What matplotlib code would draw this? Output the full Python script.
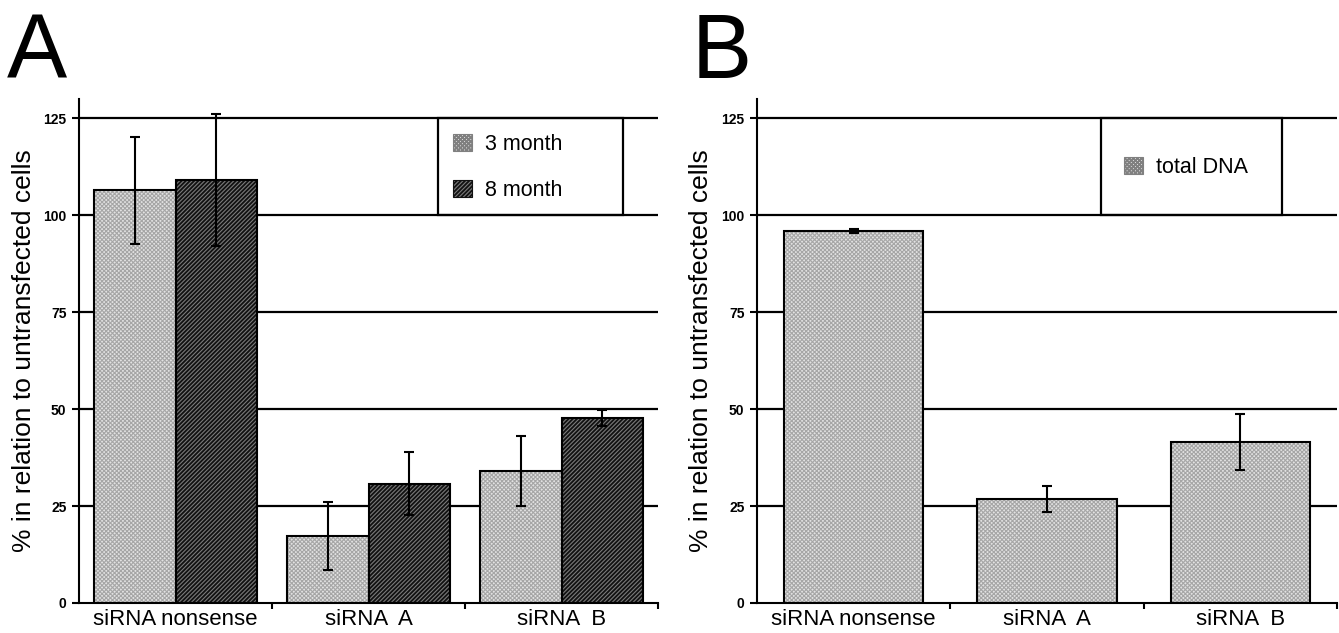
import numpy as np
import matplotlib
matplotlib.use('Agg')
import matplotlib.pyplot as plt
from matplotlib.patches import Patch, Rectangle

plt.rcParams['font.family'] = ['Liberation Sans', 'DejaVu Sans']
plt.rcParams['hatch.linewidth'] = 1.3

categories = ['siRNA nonsense', 'siRNA  A', 'siRNA  B']
month3 = [106.4, 17.3, 34.0]
month3_err = [13.7, 8.8, 9.0]
month8 = [109.2, 30.8, 47.7]
month8_err = [17.0, 8.2, 2.0]
total_dna = [95.9, 26.8, 41.5]
total_dna_err = [0.5, 3.3, 7.2]
yticks = [0, 25, 50, 75, 100, 125]

LIGHT_FACE = '#e2e2e2'
LIGHT_HATCH = '#a6a6a6'
LIGHT_PAT = 'x' * 8
DARK_FACE = '#7a7a7a'
DARK_PAT = '/' * 8

fig = plt.figure(figsize=(13.39, 6.33), dpi=100)
axA = fig.add_axes([79/1339, 30/633, 579/1339, 504/633])
axB = fig.add_axes([757/1339, 30/633, 580/1339, 504/633])

x = np.arange(len(categories))


def light_bars(ax, xs, vals, width):
    with plt.rc_context({'hatch.linewidth': 0.8}):
        ax.bar(xs, vals, width, color=LIGHT_FACE, edgecolor=LIGHT_HATCH, hatch=LIGHT_PAT, linewidth=0, zorder=2)
    ax.bar(xs, vals, width, fill=False, edgecolor='black', linewidth=1.5, zorder=3)


def dark_bars(ax, xs, vals, width):
    ax.bar(xs, vals, width, color=DARK_FACE, edgecolor='#111111', hatch=DARK_PAT, linewidth=0, zorder=2)
    ax.bar(xs, vals, width, fill=False, edgecolor='black', linewidth=1.5, zorder=3)


def style_axes(ax):
    ax.set_xlim(-0.5, 2.5)
    ax.set_ylim(0, 130)
    for s in ['top', 'right']:
        ax.spines[s].set_visible(False)
    ax.spines['left'].set_linewidth(1.5)
    ax.spines['bottom'].set_linewidth(1.5)
    ax.set_yticks(yticks)
    ax.set_yticklabels([str(t) for t in yticks], fontsize=10, fontweight='bold')
    ax.tick_params(axis='y', length=5, width=1.5, pad=4)
    ax.set_xticks(x)
    ax.set_xticklabels(categories, fontsize=16)
    ax.tick_params(axis='x', length=0, pad=4)
    ax.set_xticks([0.5, 1.5, 2.5], minor=True)
    ax.tick_params(axis='x', which='minor', length=4, width=1.5, direction='out')
    for t in yticks[1:]:
        ax.axhline(t, color='black', linewidth=1.6, zorder=1)
    ax.set_ylabel('% in relation to untransfected cells', fontsize=19)
    ax.yaxis.set_label_coords(-0.075, 0.5)


# panel A
w = 0.42
light_bars(axA, x - w/2, month3, w)
dark_bars(axA, x + w/2, month8, w)
axA.errorbar(x - w/2, month3, yerr=month3_err, fmt='none', ecolor='black', elinewidth=1.5, capsize=3.5, capthick=1.5, zorder=4)
axA.errorbar(x + w/2, month8, yerr=month8_err, fmt='none', ecolor='black', elinewidth=1.5, capsize=3.5, capthick=1.5, zorder=4)
style_axes(axA)
axA.add_patch(Rectangle((1.362, 100), 2.320 - 1.362, 25, fill=False, edgecolor='black', linewidth=1.6, zorder=5))
with plt.rc_context({'hatch.linewidth': 0.8}):
    pA3 = Patch(facecolor=LIGHT_FACE, edgecolor='#808080', hatch=LIGHT_PAT, linewidth=0.8, label='3 month')
pA8 = Patch(facecolor=DARK_FACE, edgecolor='#111111', hatch=DARK_PAT, linewidth=0.8, label='8 month')
axA.legend(handles=[pA3, pA8], loc='center left', bbox_to_anchor=(1.44, 112.3), bbox_transform=axA.transData,
           frameon=False, fontsize=15.5, handlelength=0.85, handleheight=0.85, handletextpad=0.6,
           labelspacing=1.15, borderpad=0, borderaxespad=0)

# panel B
wb = 0.72
light_bars(axB, x, total_dna, wb)
axB.errorbar(x, total_dna, yerr=total_dna_err, fmt='none', ecolor='black', elinewidth=1.5, capsize=3.5, capthick=1.5, zorder=4)
style_axes(axB)
axB.add_patch(Rectangle((1.279, 100), 2.213 - 1.279, 25, fill=False, edgecolor='black', linewidth=1.6, zorder=5))
with plt.rc_context({'hatch.linewidth': 0.8}):
    pB = Patch(facecolor=LIGHT_FACE, edgecolor='#808080', hatch=LIGHT_PAT, linewidth=0.8, label='total DNA')
axB.legend(handles=[pB], loc='center left', bbox_to_anchor=(1.40, 112.3), bbox_transform=axB.transData,
           frameon=False, fontsize=15.5, handlelength=0.85, handleheight=0.85, handletextpad=0.6,
           borderpad=0, borderaxespad=0)

fig.text(7/1339, 1 - 78/633, 'A', fontsize=65, ha='left', va='baseline')
fig.text(692/1339, 1 - 78/633, 'B', fontsize=65, ha='left', va='baseline')

fig.savefig('out.png', dpi=100)
